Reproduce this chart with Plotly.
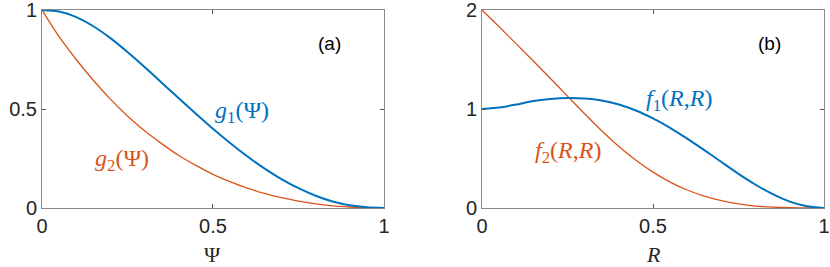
import plotly.graph_objects as go

# ---- data ----
psi = [0, 0.05, 0.1, 0.15, 0.2, 0.25, 0.3, 0.35, 0.4, 0.45, 0.5,
       0.55, 0.6, 0.65, 0.7, 0.75, 0.8, 0.85, 0.9, 0.95, 1.0]
g1 = [1.0, 0.992, 0.964, 0.918, 0.858, 0.788, 0.712, 0.633, 0.554, 0.476, 0.40,
      0.328, 0.261, 0.20, 0.146, 0.10, 0.062, 0.033, 0.014, 0.004, 0.0]
g2 = [1.0, 0.865, 0.75, 0.645, 0.55, 0.465, 0.39, 0.325, 0.265, 0.215, 0.17,
      0.133, 0.10, 0.074, 0.052, 0.035, 0.021, 0.011, 0.005, 0.001, 0.0]

R = [0, 0.05, 0.1, 0.15, 0.2, 0.25, 0.3, 0.35, 0.4, 0.45, 0.5,
     0.55, 0.6, 0.65, 0.7, 0.75, 0.8, 0.85, 0.9, 0.95, 1.0]
f1 = [1.0, 1.015, 1.045, 1.08, 1.10, 1.11, 1.105, 1.085, 1.045, 0.985, 0.905,
      0.81, 0.70, 0.585, 0.465, 0.345, 0.235, 0.14, 0.065, 0.018, 0.0]
f2 = [2.0, 1.83, 1.658, 1.484, 1.308, 1.13, 0.952, 0.78, 0.622, 0.482, 0.362,
      0.262, 0.182, 0.12, 0.074, 0.041, 0.019, 0.008, 0.003, 0.001, 0.0]

x_ticks = [0, 0.5, 1]
x_ticktext = ["0", "0.5", "1"]
y1_ticks = [0, 0.5, 1]
y1_ticktext = ["0", "0.5", "1"]
y2_ticks = [0, 1, 2]
y2_ticktext = ["0", "1", "2"]

BLUE = "#0072BD"
RED = "#D95319"
TXT = "#262626"
MATH = "Liberation Serif"

fig = go.Figure()
fig.add_trace(go.Scatter(x=psi, y=g2, mode="lines", line=dict(color=RED, width=1.3, shape="spline", smoothing=0.6),
                         xaxis="x", yaxis="y", showlegend=False))
fig.add_trace(go.Scatter(x=psi, y=g1, mode="lines", line=dict(color=BLUE, width=2, shape="spline", smoothing=0.6),
                         xaxis="x", yaxis="y", showlegend=False))
fig.add_trace(go.Scatter(x=R, y=f2, mode="lines", line=dict(color=RED, width=1.3, shape="spline", smoothing=0.6),
                         xaxis="x2", yaxis="y2", showlegend=False))
fig.add_trace(go.Scatter(x=R, y=f1, mode="lines", line=dict(color=BLUE, width=2, shape="spline", smoothing=0.6),
                         xaxis="x2", yaxis="y2", showlegend=False))

axis_common = dict(showline=True, linecolor="#8a8a8a", linewidth=1, mirror="ticks",
                   ticks="inside", ticklen=4, tickcolor="#555555", tickwidth=1,
                   showgrid=False, zeroline=False, ticklabeloverflow="allow",
                   tickfont=dict(family="Liberation Sans", size=20, color=TXT))

fig.update_layout(
    width=830, height=267,
    margin=dict(l=42, r=6, t=10, b=59, autoexpand=False),
    paper_bgcolor="white", plot_bgcolor="white",
    xaxis=dict(domain=[0, 0.4373], range=[0, 1], tickvals=x_ticks, ticktext=x_ticktext,
               anchor="y", **axis_common),
    yaxis=dict(domain=[0, 1], range=[0, 1], tickvals=y1_ticks, ticktext=y1_ticktext,
               anchor="x", **axis_common),
    xaxis2=dict(domain=[0.5627, 1], range=[0, 1], tickvals=x_ticks, ticktext=x_ticktext,
                anchor="y2", **axis_common),
    yaxis2=dict(domain=[0, 1], range=[0, 2], tickvals=y2_ticks, ticktext=y2_ticktext,
                anchor="x2", **axis_common),
)

ann = []
def add(text, x, y, xref, yref, color, size, family):
    ann.append(dict(text=text, x=x, y=y, xref=xref, yref=yref, showarrow=False,
                    xanchor="center", yanchor="middle",
                    font=dict(family=family, size=size, color=color)))

add("<i>g</i><sub>1</sub>(Ψ)", 0.585, 0.485, "x", "y", BLUE, 24, MATH)
add("<i>g</i><sub>2</sub>(Ψ)", 0.234, 0.242, "x", "y", RED, 24, MATH)
add("<i>f</i><sub>1</sub>(<i>R</i>,<i>R</i>)", 0.575, 1.09, "x2", "y2", BLUE, 24, MATH)
add("<i>f</i><sub>2</sub>(<i>R</i>,<i>R</i>)", 0.251, 0.566, "x2", "y2", RED, 24, MATH)
add("(a)", 0.842, 0.833, "x domain", "y domain", "black", 19, "Liberation Sans")
add("(b)", 0.842, 0.833, "x2 domain", "y2 domain", "black", 19, "Liberation Sans")
add("Ψ", 0.5, -0.237, "x domain", "paper", TXT, 22, MATH)
add("<i>R</i>", 0.5, -0.237, "x2 domain", "paper", TXT, 22, MATH)
fig.update_layout(annotations=ann)

fig.write_html("out.html", config={"displayModeBar": False},
               post_script="document.body.style.margin='0px';")
